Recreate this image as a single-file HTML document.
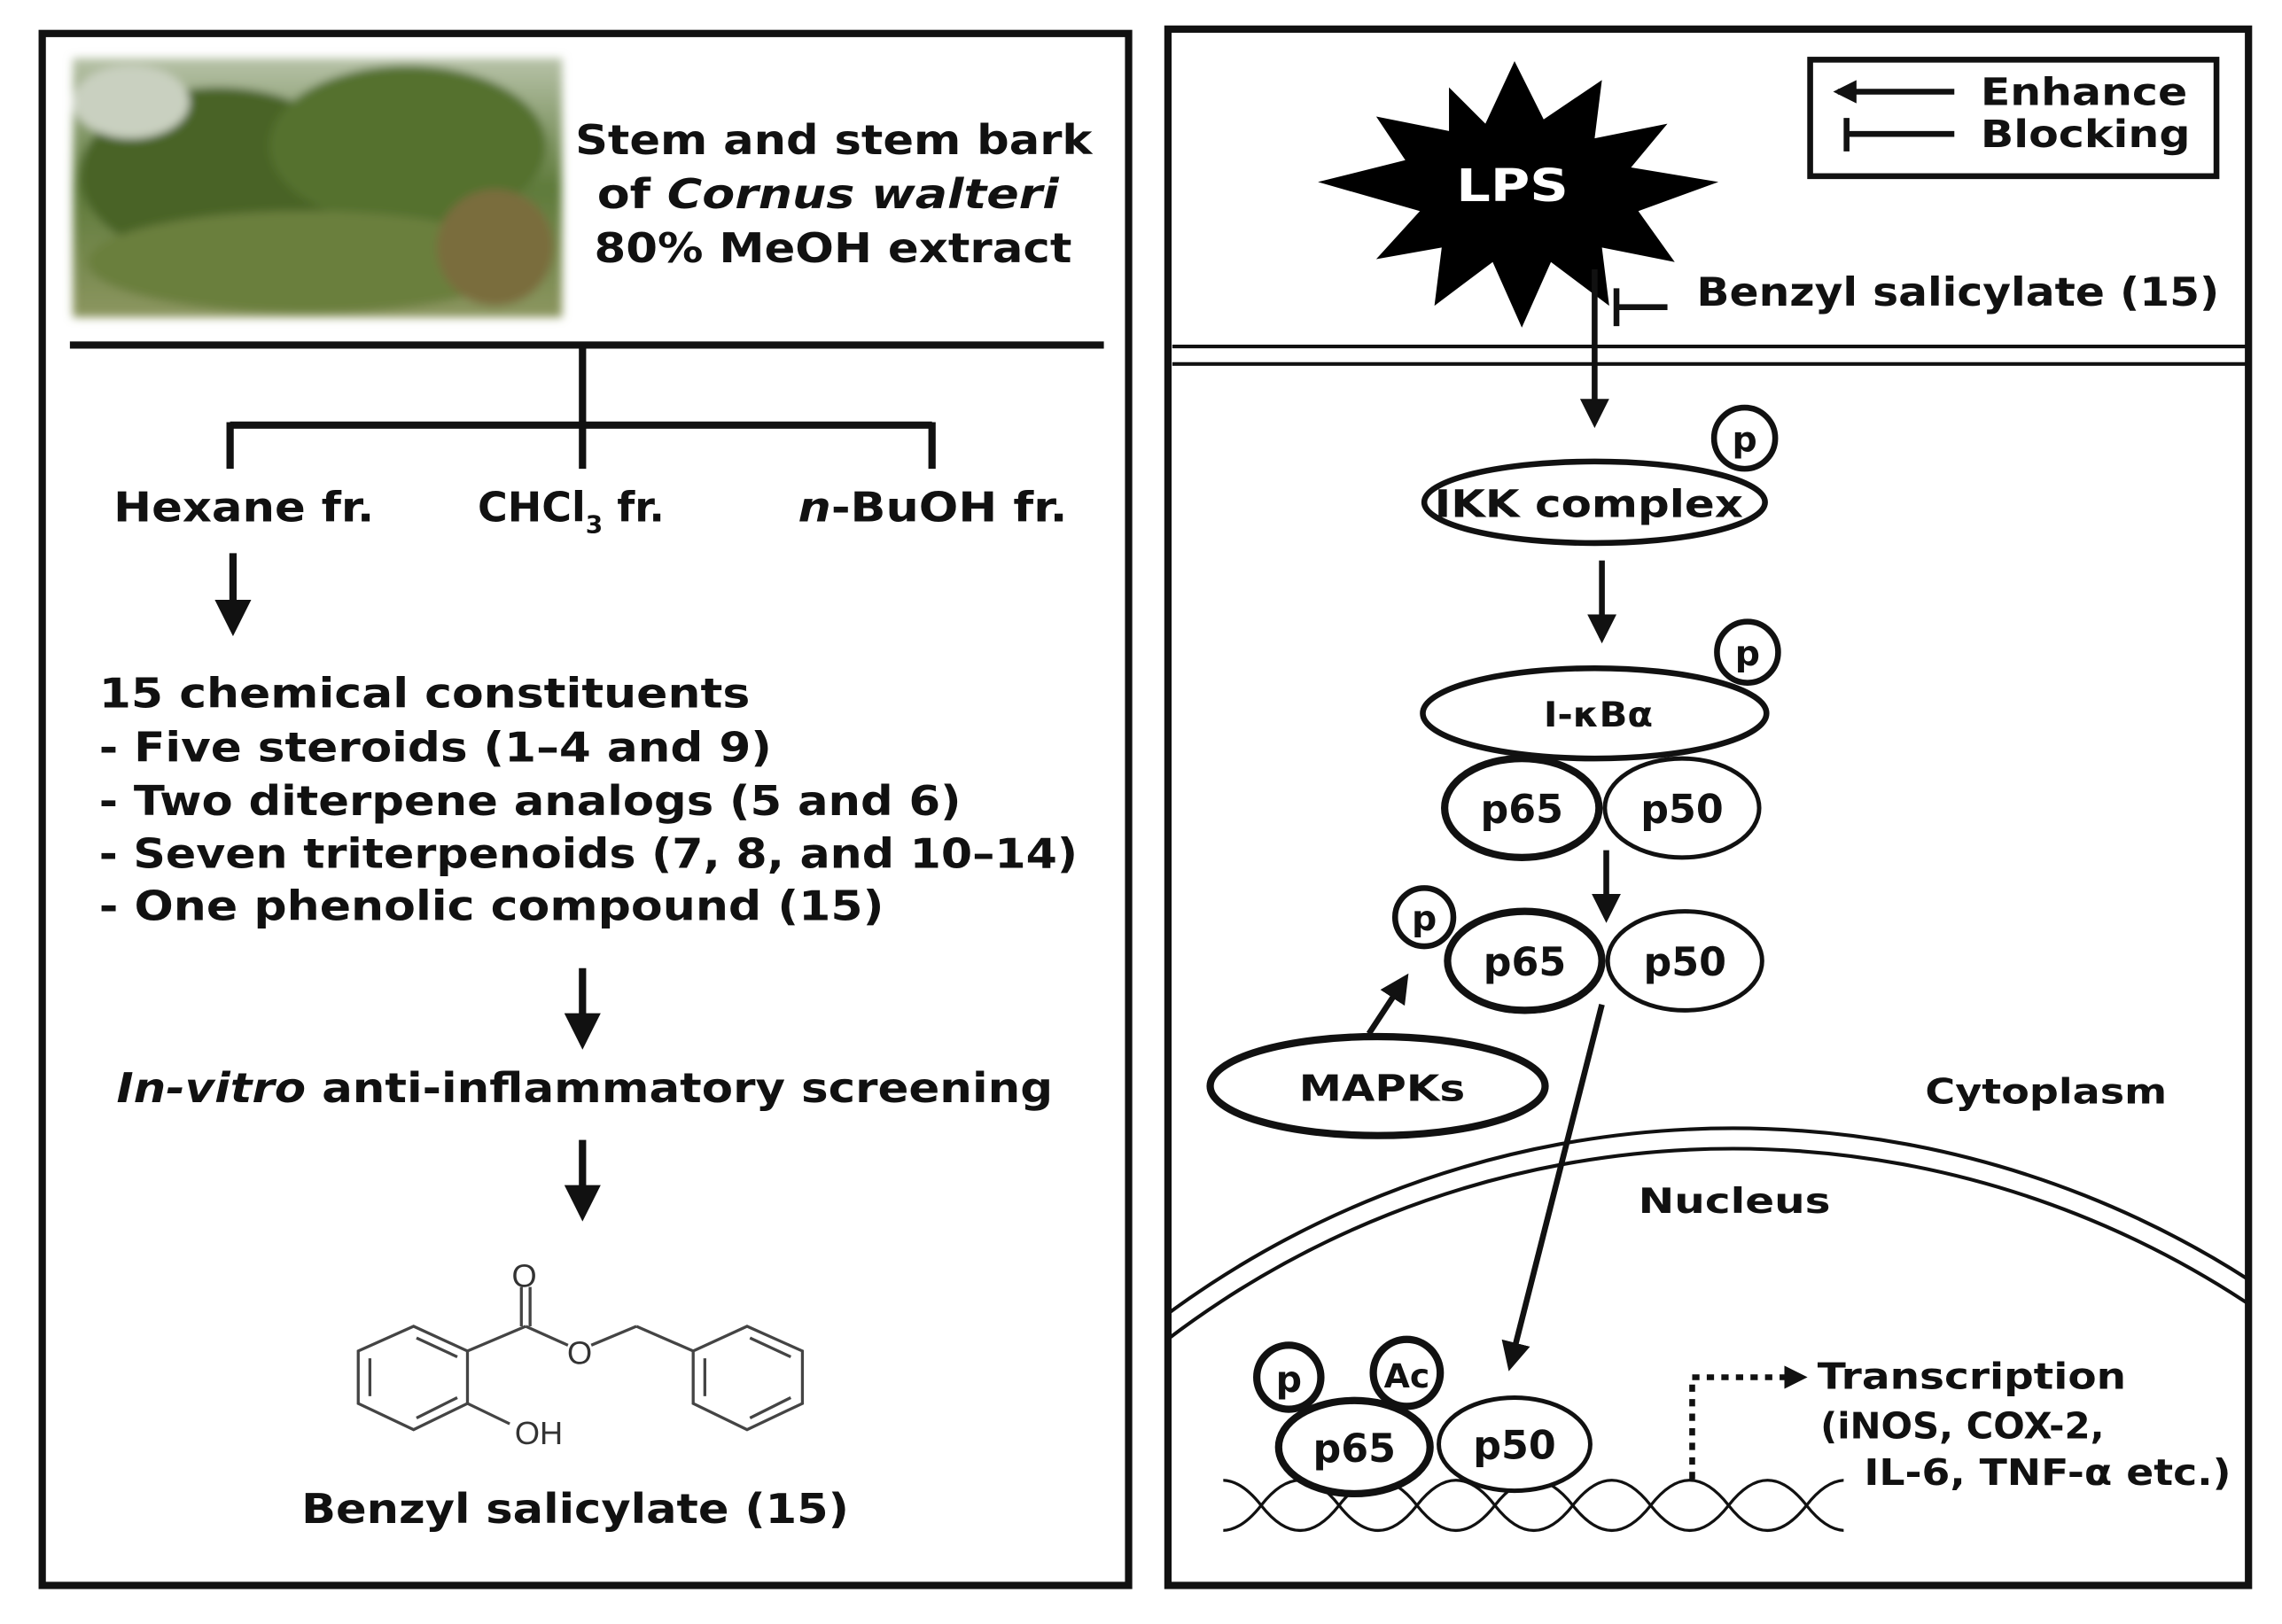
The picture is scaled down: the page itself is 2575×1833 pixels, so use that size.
<!DOCTYPE html>
<html><head><meta charset="utf-8"><style>
html,body{margin:0;padding:0;background:#fff;overflow:hidden;}
svg{display:block;}
text{font-family:"DejaVu Sans","Liberation Sans",sans-serif;font-weight:bold;fill:#111;}
</style></head><body>
<svg width="2575" height="1833" viewBox="0 0 1567 1115.5" preserveAspectRatio="none" xmlns="http://www.w3.org/2000/svg">
<defs>
<marker id="ah" viewBox="0 0 10 10" refX="8" refY="5" markerWidth="5" markerHeight="5" orient="auto"><path d="M0,0 L10,5 L0,10 z" fill="#111"/></marker>
<marker id="ah2" viewBox="0 0 10 10" refX="8" refY="5" markerWidth="4" markerHeight="4" orient="auto"><path d="M0,0 L10,5 L0,10 z" fill="#111"/></marker>
<linearGradient id="sky" x1="0" y1="0" x2="0" y2="1"><stop offset="0" stop-color="#b7c2a8"/><stop offset="0.5" stop-color="#5e7a3a"/><stop offset="1" stop-color="#8c9660"/></linearGradient>
<filter id="blur"><feGaussianBlur stdDeviation="3"/></filter>
<clipPath id="dnaclip"><rect x="840" y="990" width="426" height="80"/></clipPath>
<clipPath id="rpanel"><rect x="802" y="20" width="742" height="1069"/></clipPath>
</defs>
<rect width="1567" height="1115.5" fill="#fff"/>

<!-- Left panel -->
<rect x="29" y="23" width="746" height="1066" fill="none" stroke="#111" stroke-width="5"/>
<g filter="url(#blur)">
<rect x="50" y="40" width="336" height="178" fill="url(#sky)"/>
<ellipse cx="150" cy="120" rx="95" ry="60" fill="#4a6428"/>
<ellipse cx="280" cy="100" rx="95" ry="55" fill="#55712e"/>
<ellipse cx="210" cy="180" rx="150" ry="35" fill="#6b7f3e"/>
<ellipse cx="340" cy="170" rx="40" ry="40" fill="#7a6d3e"/>
<ellipse cx="90" cy="70" rx="40" ry="25" fill="#c9d0c0"/>
</g>
<text x="395" y="106" font-size="28" textLength="355" lengthAdjust="spacingAndGlyphs">Stem and stem bark</text>
<text x="410" y="143" font-size="28" textLength="317" lengthAdjust="spacingAndGlyphs">of <tspan font-style="italic">Cornus walteri</tspan></text>
<text x="408" y="180" font-size="28" textLength="328" lengthAdjust="spacingAndGlyphs">80% MeOH extract</text>
<line x1="48" y1="237" x2="758" y2="237" stroke="#111" stroke-width="5"/>
<line x1="400" y1="237" x2="400" y2="322" stroke="#111" stroke-width="5"/>
<line x1="158" y1="292" x2="640" y2="292" stroke="#111" stroke-width="5"/>
<line x1="158" y1="290" x2="158" y2="322" stroke="#111" stroke-width="5"/>
<line x1="640" y1="290" x2="640" y2="322" stroke="#111" stroke-width="5"/>
<text x="78" y="358" font-size="28" textLength="179" lengthAdjust="spacingAndGlyphs">Hexane fr.</text>
<text x="328" y="358" font-size="28">CHCl<tspan font-size="17" dy="8">3</tspan><tspan dy="-8"> fr.</tspan></text>
<text x="548" y="358" font-size="28" textLength="185" lengthAdjust="spacingAndGlyphs"><tspan font-style="italic">n</tspan>-BuOH fr.</text>
<line x1="160" y1="380" x2="160" y2="432" stroke="#111" stroke-width="5" marker-end="url(#ah)"/>
<text x="68" y="486" font-size="28" textLength="447" lengthAdjust="spacingAndGlyphs">15 chemical constituents</text>
<text x="68" y="523" font-size="28" textLength="462" lengthAdjust="spacingAndGlyphs">- Five steroids (1–4 and 9)</text>
<text x="68" y="560" font-size="28" textLength="592" lengthAdjust="spacingAndGlyphs">- Two diterpene analogs (5 and 6)</text>
<text x="68" y="596" font-size="28" textLength="672" lengthAdjust="spacingAndGlyphs">- Seven triterpenoids (7, 8, and 10–14)</text>
<text x="68" y="632" font-size="28" textLength="539" lengthAdjust="spacingAndGlyphs">- One phenolic compound (15)</text>
<line x1="400" y1="665" x2="400" y2="716" stroke="#111" stroke-width="5" marker-end="url(#ah)"/>
<text x="80" y="757" font-size="28" textLength="643" lengthAdjust="spacingAndGlyphs"><tspan font-style="italic">In-vitro</tspan> anti-inflammatory screening</text>
<line x1="400" y1="783" x2="400" y2="834" stroke="#111" stroke-width="5" marker-end="url(#ah)"/>
<!-- benzyl salicylate structure -->
<g stroke="#444" stroke-width="2" fill="none">
<polygon points="246,928 284,911 321,928 321,964 284,982 246,964"/>
<line x1="254" y1="933" x2="254" y2="959"/>
<line x1="286" y1="919" x2="314" y2="932"/>
<line x1="286" y1="974" x2="314" y2="960"/>
<line x1="321" y1="928" x2="361" y2="911"/>
<line x1="358" y1="911" x2="358" y2="884"/>
<line x1="364" y1="911" x2="364" y2="884"/>
<line x1="361" y1="911" x2="390" y2="924"/>
<line x1="406" y1="924" x2="437" y2="911"/>
<line x1="437" y1="911" x2="476" y2="928"/>
<line x1="321" y1="964" x2="350" y2="978"/>
<polygon points="476,928 513,911 551,928 551,964 513,982 476,964"/>
<line x1="484" y1="933" x2="484" y2="959"/>
<line x1="515" y1="919" x2="543" y2="932"/>
<line x1="515" y1="974" x2="543" y2="960"/>
</g>
<text x="360" y="884" font-size="22" text-anchor="middle" style="font-family:'Liberation Sans',sans-serif;font-weight:normal;fill:#333">O</text>
<text x="398" y="937" font-size="22" text-anchor="middle" style="font-family:'Liberation Sans',sans-serif;font-weight:normal;fill:#333">O</text>
<text x="370" y="992" font-size="22" text-anchor="middle" style="font-family:'Liberation Sans',sans-serif;font-weight:normal;fill:#333">OH</text>
<text x="207" y="1046" font-size="28" textLength="376" lengthAdjust="spacingAndGlyphs">Benzyl salicylate (15)</text>

<!-- Right panel -->
<rect x="1243" y="41" width="279" height="80" fill="none" stroke="#111" stroke-width="4"/>
<line x1="1342" y1="63" x2="1262" y2="63" stroke="#111" stroke-width="4" marker-end="url(#ah2)"/>
<line x1="1342" y1="92" x2="1268" y2="92" stroke="#111" stroke-width="4"/>
<line x1="1268" y1="81" x2="1268" y2="104" stroke="#111" stroke-width="4"/>
<text x="1360" y="72" font-size="26" textLength="142" lengthAdjust="spacingAndGlyphs">Enhance</text>
<text x="1360" y="101" font-size="26" textLength="144" lengthAdjust="spacingAndGlyphs">Blocking</text>
<polygon fill="#000" points="1040,42 1060,82 1100,55 1095,95 1145,85 1120,115 1180,125 1125,145 1150,180 1100,170 1105,210 1065,180 1045,225 1025,180 985,210 990,170 945,178 975,145 905,125 965,110 945,80 995,90 995,60 1020,85"/>
<text x="1000" y="138" font-size="31" textLength="77" lengthAdjust="spacingAndGlyphs" style="fill:#fff">LPS</text>
<line x1="1110" y1="198" x2="1110" y2="224" stroke="#111" stroke-width="4"/>
<line x1="1110" y1="211" x2="1145" y2="211" stroke="#111" stroke-width="4"/>
<text x="1165" y="210" font-size="27" textLength="359" lengthAdjust="spacingAndGlyphs">Benzyl salicylate (15)</text>
<line x1="805" y1="238" x2="1542" y2="238" stroke="#111" stroke-width="2.5"/>
<line x1="805" y1="250" x2="1542" y2="250" stroke="#111" stroke-width="2.5"/>
<line x1="1095" y1="185" x2="1095" y2="290" stroke="#111" stroke-width="4" marker-end="url(#ah)"/>
<ellipse cx="1095" cy="345" rx="117" ry="28" fill="#fff" stroke="#111" stroke-width="4"/>
<circle cx="1198" cy="301" r="21" fill="#fff" stroke="#111" stroke-width="4"/>
<text x="1198" y="310" font-size="24" text-anchor="middle">p</text>
<text x="985" y="355" font-size="26" textLength="212" lengthAdjust="spacingAndGlyphs">IKK complex</text>
<line x1="1100" y1="385" x2="1100" y2="438" stroke="#111" stroke-width="4" marker-end="url(#ah)"/>
<ellipse cx="1095" cy="490" rx="118" ry="31" fill="#fff" stroke="#111" stroke-width="4"/>
<circle cx="1200" cy="448" r="21" fill="#fff" stroke="#111" stroke-width="4"/>
<text x="1200" y="457" font-size="24" text-anchor="middle">p</text>
<text x="1060" y="499" font-size="24" textLength="75" lengthAdjust="spacingAndGlyphs">I-κBα</text>
<ellipse cx="1045" cy="555" rx="53" ry="34" fill="#fff" stroke="#111" stroke-width="5"/>
<ellipse cx="1155" cy="555" rx="53" ry="34" fill="#fff" stroke="#111" stroke-width="3"/>
<text x="1045" y="565" font-size="27" text-anchor="middle">p65</text>
<text x="1155" y="565" font-size="27" text-anchor="middle">p50</text>
<line x1="1103" y1="584" x2="1103" y2="630" stroke="#111" stroke-width="4" marker-end="url(#ah)"/>
<ellipse cx="1047" cy="660" rx="53" ry="34" fill="#fff" stroke="#111" stroke-width="5"/>
<ellipse cx="1157" cy="660" rx="53" ry="34" fill="#fff" stroke="#111" stroke-width="3"/>
<circle cx="978" cy="630" r="20" fill="#fff" stroke="#111" stroke-width="4"/>
<text x="978" y="639" font-size="24" text-anchor="middle">p</text>
<text x="1047" y="670" font-size="27" text-anchor="middle">p65</text>
<text x="1157" y="670" font-size="27" text-anchor="middle">p50</text>
<line x1="940" y1="710" x2="965" y2="672" stroke="#111" stroke-width="4" marker-end="url(#ah)"/>
<ellipse cx="946" cy="746" rx="115" ry="34" fill="#fff" stroke="#111" stroke-width="5"/>
<text x="892" y="756" font-size="25" textLength="114" lengthAdjust="spacingAndGlyphs">MAPKs</text>
<text x="1322" y="758" font-size="24" textLength="166" lengthAdjust="spacingAndGlyphs">Cytoplasm</text>
<g clip-path="url(#rpanel)">
<circle cx="1190" cy="1430" r="655" fill="none" stroke="#111" stroke-width="2.5"/>
<circle cx="1190" cy="1430" r="641" fill="none" stroke="#111" stroke-width="2.5"/>
</g>
<rect x="802" y="20" width="742" height="1069" fill="none" stroke="#111" stroke-width="5"/>
<text x="1125" y="833" font-size="24" textLength="132" lengthAdjust="spacingAndGlyphs">Nucleus</text>
<line x1="1100" y1="690" x2="1037" y2="938" stroke="#111" stroke-width="4" marker-end="url(#ah)"/>
<g clip-path="url(#dnaclip)" fill="none" stroke="#111" stroke-width="2">
<path d="M812.5,1034 c18,-23 35.5,-23 53.5,0 c18,23 35.5,23 53.5,0 c18,-23 35.5,-23 53.5,0 c18,23 35.5,23 53.5,0 c18,-23 35.5,-23 53.5,0 c18,23 35.5,23 53.5,0 c18,-23 35.5,-23 53.5,0 c18,23 35.5,23 53.5,0 c18,-23 35.5,-23 53.5,0 c18,23 35.5,23 53.5,0"/>
<path d="M812.5,1034 c18,23 35.5,23 53.5,0 c18,-23 35.5,-23 53.5,0 c18,23 35.5,23 53.5,0 c18,-23 35.5,-23 53.5,0 c18,23 35.5,23 53.5,0 c18,-23 35.5,-23 53.5,0 c18,23 35.5,23 53.5,0 c18,-23 35.5,-23 53.5,0 c18,23 35.5,23 53.5,0 c18,-23 35.5,-23 53.5,0"/>
</g>
<ellipse cx="930" cy="994" rx="52" ry="32" fill="#fff" stroke="#111" stroke-width="5"/>
<ellipse cx="1040" cy="992" rx="52" ry="32" fill="#fff" stroke="#111" stroke-width="3"/>
<circle cx="885" cy="946" r="22" fill="#fff" stroke="#111" stroke-width="5"/>
<circle cx="966" cy="943" r="23" fill="#fff" stroke="#111" stroke-width="5"/>
<text x="930" y="1004" font-size="27" text-anchor="middle">p65</text>
<text x="1040" y="1002" font-size="27" text-anchor="middle">p50</text>
<text x="885" y="956" font-size="25" text-anchor="middle">p</text>
<text x="966" y="953" font-size="23" text-anchor="middle">Ac</text>
<path d="M1162,1016 L1162,946 L1238,946" fill="none" stroke="#111" stroke-width="4" stroke-dasharray="5,5" marker-end="url(#ah2)"/>
<text x="1248" y="954" font-size="25" textLength="212" lengthAdjust="spacingAndGlyphs">Transcription</text>
<text x="1250" y="988" font-size="25" textLength="195" lengthAdjust="spacingAndGlyphs">(iNOS, COX-2,</text>
<text x="1280" y="1020" font-size="25" textLength="252" lengthAdjust="spacingAndGlyphs">IL-6, TNF-α etc.)</text>
</svg>
</body></html>
